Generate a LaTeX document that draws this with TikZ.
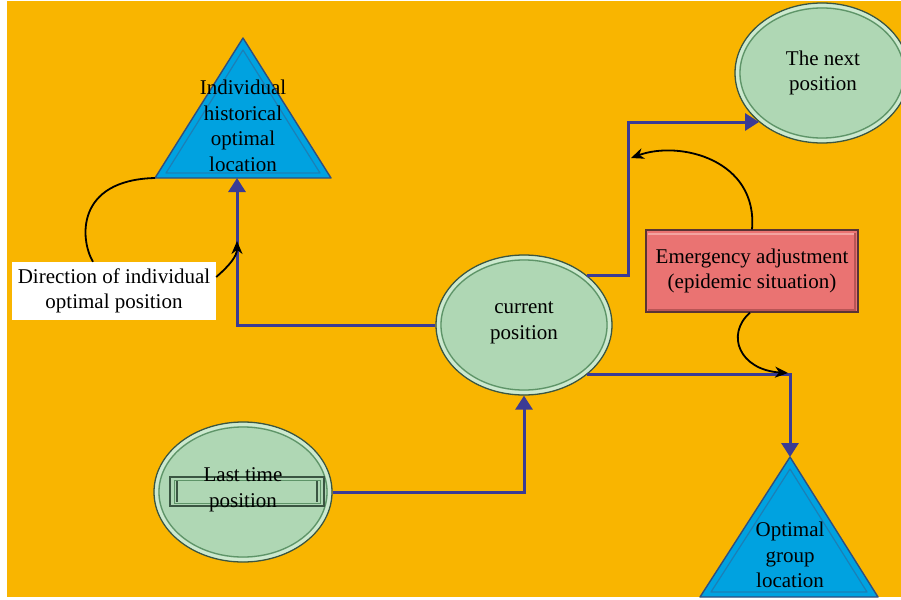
\documentclass[tikz,border=0pt]{standalone}
\usepackage{fontspec}
\setmainfont{Liberation Serif}
\usetikzlibrary{shapes.geometric,arrows.meta}
\definecolor{bgorange}{HTML}{F9B500}
\definecolor{trifill}{HTML}{00A2E0}
\definecolor{triedge}{HTML}{2E4F80}
\definecolor{triinner}{HTML}{1C7FB6}
\definecolor{ellfill}{HTML}{AFD7B4}
\definecolor{elledge}{HTML}{3A5542}
\definecolor{ellband}{HTML}{CDE9CF}
\definecolor{ellring}{HTML}{5E9468}
\definecolor{emfill}{HTML}{EA7372}
\definecolor{emedge}{HTML}{5A3434}
\definecolor{emlight}{HTML}{F3A3A0}
\definecolor{emdark}{HTML}{B85555}
\definecolor{flowblue}{HTML}{3B3B94}
\begin{document}
\begin{tikzpicture}[x=1pt,y=-1pt,
  every node/.style={font=\fontsize{21}{25.5}\selectfont, align=center, text=black},
  posell/.style={ellipse, fill=ellfill, draw=elledge, line width=1.3pt, inner sep=0pt},
  ellbandline/.style={draw=ellband, line width=3pt},
  ellringline/.style={draw=ellring, line width=1.3pt},
  tribody/.style={fill=trifill, draw=triedge, line width=1.4pt, line join=round},
  triring/.style={draw=triinner, line width=1.2pt, line join=round},
  embox/.style={rectangle, fill=emfill, draw=emedge, line width=1.2pt, minimum width=212pt, minimum height=82pt, inner sep=0pt},
  dirbox/.style={rectangle, fill=white, minimum width=204pt, minimum height=58pt, inner sep=0pt},
  flow/.style={draw=flowblue, line width=3pt, -{Triangle[width=17pt,length=14pt]}},
  hint/.style={draw=black, line width=1.8pt, -{Stealth[length=13pt,width=11pt]}},
  hintplain/.style={draw=black, line width=1.8pt},
]
\useasboundingbox (0,0) rectangle (901,599);
\fill[bgorange] (7,1) rectangle (901,597);

% triangles
\path[tribody] (243,38) coordinate (t1top) -- (331,178) coordinate (t1r) -- (155,178) coordinate (t1l) -- cycle;
\draw[triring] (243,50) -- (320,173) -- (166,173) -- cycle;
\node (t1txt) at (243,126) {Individual\\historical\\optimal\\location};
\coordinate (t1in) at (237,178);

\path[tribody] (790,457) coordinate (t2top) -- (878,597) coordinate (t2r) -- (700,597) coordinate (t2l) -- cycle;
\draw[triring] (790,469) -- (867,592) -- (711,592) -- cycle;
\node (t2txt) at (790,555) {Optimal\\group\\location};

% ellipses
\node[posell, minimum width=176pt, minimum height=140pt] (cur) at (524,325) {};
\draw[ellbandline] (cur.center) ellipse [x radius=85.5, y radius=67.5];
\draw[ellringline] (cur.center) ellipse [x radius=83, y radius=65];
\node (curtxt) at (524,323) {current\\position};

\node[posell, minimum width=174pt, minimum height=140pt] (next) at (822,73) {};
\draw[ellbandline] (next.center) ellipse [x radius=84.5, y radius=67.5];
\draw[ellringline] (next.center) ellipse [x radius=82, y radius=65];
\node (nexttxt) at (823,73) {The next\\position};

\node[posell, minimum width=178pt, minimum height=140pt] (last) at (243,492) {};
\draw[ellbandline] (last.center) ellipse [x radius=86.5, y radius=67.5];
\draw[ellringline] (last.center) ellipse [x radius=84, y radius=65];
\draw[draw=elledge, line width=1.2pt] (170,477) rectangle (324,506);
\draw[draw=ellring, line width=0.8pt] (174,480) rectangle (320,503);
\draw[draw=elledge, line width=1.4pt] (177,481) -- (177,502);
\draw[draw=elledge, line width=1.4pt] (317,481) -- (317,502);
\node (lasttxt) at (243,490) {Last time\\position};

% boxes
\node[embox] (em) at (752,271) {Emergency adjustment\\(epidemic situation)};
\draw[emlight, line width=2pt] (648,233.5) -- (855,233.5);
\draw[emdark, line width=2pt] (855,233) -- (855,310) -- (648,310);
\node[dirbox] (dir) at (114,291) {Direction of individual\\optimal position};

% flow connectors
\coordinate (b1) at (628,122);
\draw[flow] (cur.west) -| (t1in);
\draw[flow] (last.east) -| (cur.south);
\draw[flow] (cur.38) -| (b1) -- (next.218 |- b1);
\draw[flow] (cur.322) -| (t2top);

% hint curves
\coordinate (h1) at (237,241);
\coordinate (h2) at (631,158);
\coordinate (h3) at (788,373);
\draw[hintplain] ([xshift=-21pt]dir.north) .. controls (80,240) and (75,180) .. (t1l);
\draw[hint] ([yshift=14pt]dir.east) .. controls (230,265) and (237,256) .. (h1);
\draw[hint] (em.north) .. controls (758,160) and (680,140) .. (h2);
\draw[hint] ([xshift=-2pt]em.south) .. controls (725,335) and (740,370) .. (h3);
\end{tikzpicture}
\end{document}
